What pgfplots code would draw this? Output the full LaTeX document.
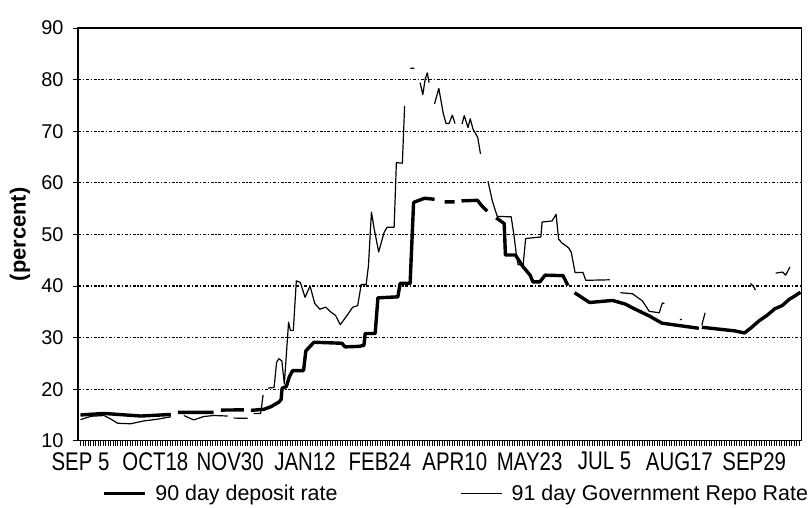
\documentclass[border=0pt]{standalone}
\usepackage{pgfplots}
\pgfplotsset{compat=1.18}
\usepackage{fontspec}
\setmainfont{Liberation Sans}
\begin{document}
\begin{tikzpicture}
\begin{axis}[
  scale only axis, width=724bp, height=413bp,
  xmin=-1, xmax=289, ymin=10, ymax=90,
  axis line style={line width=1.2bp},
  xtick={0,30,...,270},
  xticklabels={SEP 5,OCT18,NOV30,JAN12,FEB24,APR10,MAY23,JUL 5,AUG17,SEP29},
  minor xtick={0,1,...,288},
  ytick={10,20,...,90},
  tick align=outside,
  xtick pos=bottom, ytick pos=left,
  major tick length=5bp, minor tick length=5bp,
  every tick/.style={black, line width=0.8bp},
  ymajorgrids,
  major grid style={black, line width=1.3bp, dash pattern=on 3bp off 1.8bp on 1.2bp off 1.8bp},
  /pgf/number format/assume math mode=true,
  ticklabel style={font=\fontsize{20}{22}\selectfont},
  yticklabel style={xshift=-6bp},
  xticklabel style={yshift=-2bp, yscale=1.25, font=\fontsize{20.5}{22}\selectfont},
  ylabel={(percent)},
  ylabel style={font=\fontsize{22}{24}\selectfont\bfseries, at={(axis description cs:-0.080,0.5)}, anchor=center},
  unbounded coords=jump,
  legend columns=2,
  legend cell align=left,
  legend image code/.code={\draw[#1] (0bp,0bp) -- (41bp,0bp);},
  legend style={draw=none, fill=none, at={(axis description cs:0.033,-0.128)}, anchor=west,
    font=\fontsize{21.5}{24}\selectfont, inner sep=0pt,
    nodes={inner xsep=0pt, inner ysep=1bp},
    /tikz/every odd column/.append style={column sep=9bp},
    /tikz/every even column/.append style={column sep=123bp}},
]
\addplot[black, line width=3.4bp, line join=round] coordinates {
(0,15.0)(9.4,15.3)(24.2,14.8)(36.2,15.1)(37.5,nan)(39,15.5)(53.4,15.5)(55,nan)(56.3,15.95)(65.5,16.0)(67,nan)(68.3,15.9)(73.5,16.1)(76.3,16.6)(79.5,17.5)(80.4,18.0)(80.8,20.2)(82.5,20.5)(83.7,22.4)(85,23.6)(89.4,23.6)(90.3,27.4)(92,28.3)(93.6,29.1)(104.8,28.9)(106,28.2)(111.6,28.3)(113.6,28.5)(114.1,30.8)(118.1,30.8)(119.2,37.7)(127.2,37.9)(128.1,40.5)(132.1,40.5)(133.5,56.2)(137.9,57.0)(141.9,56.8)(143.9,nan)(145.9,56.3)(149.9,56.3)(151.3,nan)(152.7,56.5)(159.1,56.6)(160.7,55.6)(163,54.5)(164.8,nan)(166.6,53.2)(169.8,52.1)(170.3,46.0)(174.3,46.0)(177.4,43.7)(180.2,42.1)(181.3,40.8)(184.1,40.8)(186.2,42.1)(193.4,42.0)(195.3,40.1)(196.6,nan)(198,38.7)(204,36.8)(213.2,37.2)(218.3,36.5)(222.3,35.5)(227.9,34.2)(233,32.8)(247.8,31.8)(248.4,nan)(249,32.0)(262.2,31.3)(266.1,30.9)(269,32.0)(271.8,33.2)(275.1,34.3)(278.3,35.6)(281.2,36.2)(284,37.4)(286.4,38.1)(288.5,38.8)
};
\addlegendentry{90 day deposit rate}
\addplot[black, line width=1.2bp, line join=round] coordinates {
(0,14.1)(4.2,14.75)(9.4,14.9)(12.2,14.2)(14.9,13.4)(20.1,13.3)(25.4,13.85)(31,14.2)(36.2,14.65)(38,nan)(41.4,14.9)(45.4,14.05)(49.4,14.7)(53.4,14.9)(59,14.8)(60,nan)(61.4,14.4)(67,14.35)(68,nan)(69.4,15.3)(72.2,15.3)(73.2,18.9)(74,nan)(75.2,20.2)(77.6,20.35)(78.6,25.2)(79.5,25.9)(80.7,25.5)(81.7,21.0)(83.4,33.0)(84.1,31.4)(85.3,31.4)(86.5,41.0)(88.1,40.7)(90,37.8)(92,40.0)(93.9,36.6)(95.9,35.5)(98.3,35.9)(100.2,35.0)(102.2,34.3)(104.1,32.5)(107,34.4)(109.1,35.9)(111.1,36.2)(112.5,40.3)(114.5,40.3)(115.4,43.9)(116.6,54.3)(117.7,51.1)(119.5,46.6)(121.7,50.4)(122.9,51.4)(125.7,51.4)(126.6,63.9)(129,63.8)(129.9,74.9)(131,nan)(132.2,82.2)(133.8,82.2)(135,nan)(136.1,79.4)(137.2,77.1)(138.1,80.0)(139,81.3)(139.7,79.4)(141,nan)(141.9,75.3)(143.6,78.3)(145.4,73.4)(146.5,71.5)(147.7,71.5)(149,73.1)(150.1,71.5)(151.5,nan)(152.9,71.4)(153.8,73.0)(155.3,70.7)(156.2,72.4)(157.3,70.4)(159.2,68.8)(160.3,65.6)(161.8,nan)(163.3,60.3)(165.1,56.4)(167,53.5)(172.6,53.4)(173.7,49.9)(174.7,46.0)(175.4,44.1)(177.4,44.1)(178.4,49.2)(184.5,49.5)(185,52.4)(189,52.6)(190.6,53.9)(191.6,49.1)(192.8,48.4)(195.6,47.4)(196.7,46.5)(198.2,42.6)(201.4,42.6)(202.5,41.1)(212.1,41.2)(214,nan)(216.4,38.7)(221.2,38.5)(225.2,37.1)(227.9,35.1)(231.9,34.8)(233.2,36.7)(234,36.6)(236,nan)(240.2,33.5)(241,33.5)(244,nan)(249,32.4)(250.3,34.8)(255,nan)(268.5,40.5)(269.7,39.9)(270.5,39.2)(274,nan)(278.6,42.5)(281.4,42.7)(282.6,42.1)(284.3,43.7)
};
\addlegendentry{91 day Government Repo Rate}
\end{axis}
\path ([xshift=-78bp,yshift=-67bp]current axis.south west) rectangle ([xshift=6bp,yshift=28bp]current axis.north east);
\end{tikzpicture}
\end{document}
